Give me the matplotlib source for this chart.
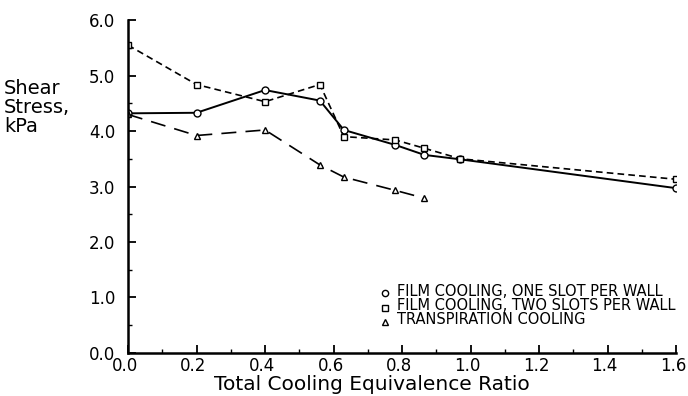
import numpy as np
import matplotlib
matplotlib.use("Agg")
import matplotlib.pyplot as plt
import matplotlib.transforms as mtransforms
from matplotlib.ticker import MultipleLocator

# ── data ──────────────────────────────────────────────────────────────────
one_slot_x = [0.0, 0.2, 0.4, 0.56, 0.63, 0.78, 0.865, 0.97, 1.6]
one_slot_y = [4.32, 4.33, 4.74, 4.55, 4.02, 3.75, 3.57, 3.49, 2.97]

two_slot_x = [0.0, 0.2, 0.4, 0.56, 0.63, 0.78, 0.865, 0.97, 1.6]
two_slot_y = [5.55, 4.84, 4.53, 4.84, 3.90, 3.84, 3.69, 3.50, 3.13]

transp_x = [0.0, 0.2, 0.4, 0.56, 0.63, 0.78, 0.865]
transp_y = [4.30, 3.92, 4.02, 3.39, 3.17, 2.93, 2.79]

labels = ["FILM COOLING, ONE SLOT PER WALL",
          "FILM COOLING, TWO SLOTS PER WALL",
          "TRANSPIRATION COOLING"]

plt.rcParams["font.family"] = ["DejaVu Sans"]

fig = plt.figure(figsize=(6.88, 3.96), dpi=100, facecolor="white")
ax = fig.add_axes([0.186, 0.109, 0.797, 0.840])

mk = dict(ms=5, mfc="white", mec="black", mew=1.0, color="black")
ax.plot(one_slot_x, one_slot_y, "-", marker="o", lw=1.4, **mk)
ax.plot(two_slot_x, two_slot_y, marker="s", ls=(0, (4, 2.5)), lw=1.2, **mk)
ax.plot(transp_x, transp_y, marker="^", ls=(0, (9, 5.5)), lw=1.2, **mk)

ax.set_xlim(0, 1.6)
ax.set_ylim(0, 6.0)
ax.xaxis.set_major_locator(MultipleLocator(0.2))
ax.xaxis.set_minor_locator(MultipleLocator(0.1))
ax.yaxis.set_major_locator(MultipleLocator(1.0))
ax.yaxis.set_minor_locator(MultipleLocator(0.5))
ax.xaxis.set_major_formatter(plt.FormatStrFormatter("%.1f"))
ax.yaxis.set_major_formatter(plt.FormatStrFormatter("%.1f"))

for s in ["top", "right"]:
    ax.spines[s].set_visible(False)
for s in ["left", "bottom"]:
    ax.spines[s].set_linewidth(1.8)
ax.tick_params(which="major", direction="in", length=6, width=1.3,
               labelsize=12)
ax.tick_params(axis="y", which="major", pad=9)
ax.tick_params(axis="x", which="major", pad=3)
ax.tick_params(which="minor", direction="in", length=3, width=1.0)

# nudge x tick labels a little left, as in the original
fig.canvas.draw()
shift = mtransforms.ScaledTranslation(-3 / 100, 0, fig.dpi_scale_trans)
for lab in ax.get_xticklabels():
    lab.set_transform(lab.get_transform() + shift)
last = ax.get_xticklabels()[-1]
last.set_transform(last.get_transform()
                   + mtransforms.ScaledTranslation(-6 / 100, 0, fig.dpi_scale_trans))

fig.text(0.541, 0.030, "Total Cooling Equivalence Ratio", fontsize=14.5,
         ha="center", va="center")
fig.text(0.006, 0.80, "Shear\nStress,\nkPa", fontsize=14,
         ha="left", va="top", linespacing=1.0)

# legend drawn by hand
for i, (m, lab) in enumerate(zip(["o", "s", "^"], labels)):
    yy = 0.265 - i * 0.036
    fig.text(0.577, yy, lab, fontsize=10.5, ha="left", va="center")
    fig.lines.append(plt.Line2D([0.560], [yy - 0.006], marker=m, ms=4.5,
                                mfc="white", mec="black", mew=1.0,
                                transform=fig.transFigure))

fig.savefig("out.png", dpi=100, facecolor="white")
